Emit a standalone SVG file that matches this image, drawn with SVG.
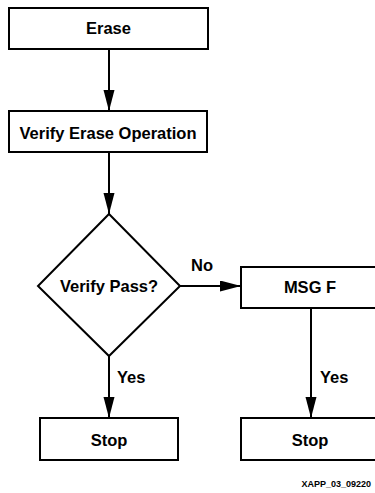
<svg xmlns="http://www.w3.org/2000/svg" width="375" height="493" viewBox="0 0 375 493">
  <defs>
    <style>
      .box { fill: #ffffff; stroke: #000000; stroke-width: 2; }
      .lbl { font-family: "Liberation Sans", Arial, sans-serif; font-weight: bold; font-size: 16.5px; fill: #000000; }
      .mid { text-anchor: middle; }
      .edge { fill: none; stroke: #000000; stroke-width: 2; marker-end: url(#arrow); }
      .tag { font-family: "Liberation Sans", Arial, sans-serif; font-weight: bold; font-size: 9px; fill: #000000; }
    </style>
    <marker id="arrow" markerUnits="userSpaceOnUse" markerWidth="22" markerHeight="12" refX="21" refY="5.5" orient="auto">
      <path d="M0,0 L21,5.5 L0,11 Z" fill="#000000"/>
    </marker>
  </defs>
  <rect width="375" height="493" fill="#ffffff"/>

  <g id="connectors">
    <line class="edge" x1="109" y1="49" x2="109" y2="111"/>
    <line class="edge" x1="109" y1="152" x2="109" y2="214"/>
    <line class="edge" x1="180" y1="286" x2="241" y2="286"/>
    <line class="edge" x1="109" y1="356" x2="109" y2="418"/>
    <line class="edge" x1="311" y1="308" x2="311" y2="418"/>
    <text class="lbl" x="191" y="271">No</text>
    <text class="lbl" x="117" y="383">Yes</text>
    <text class="lbl" x="320" y="383">Yes</text>
  </g>

  <g id="erase">
    <rect class="box" x="9" y="8" width="199" height="41"/>
    <text class="lbl mid" x="108.5" y="34">Erase</text>
  </g>

  <g id="verify-erase">
    <rect class="box" x="9" y="111" width="198" height="41"/>
    <text class="lbl mid" x="108" y="138.5">Verify Erase Operation</text>
  </g>

  <g id="verify-pass">
    <polygon class="box" points="109,214 180,286 109,356 38,286"/>
    <text class="lbl mid" x="109" y="291.5">Verify Pass?</text>
  </g>

  <g id="msg-f">
    <rect class="box" x="241" y="267" width="140" height="41"/>
    <text class="lbl mid" x="310" y="293">MSG F</text>
  </g>

  <g id="stop-left">
    <rect class="box" x="40" y="418" width="138" height="42"/>
    <text class="lbl mid" x="109" y="446">Stop</text>
  </g>

  <g id="stop-right">
    <rect class="box" x="241" y="418" width="140" height="42"/>
    <text class="lbl mid" x="310" y="446">Stop</text>
  </g>

  <text class="tag" x="371" y="486.5" text-anchor="end">XAPP_03_09220</text>
</svg>
